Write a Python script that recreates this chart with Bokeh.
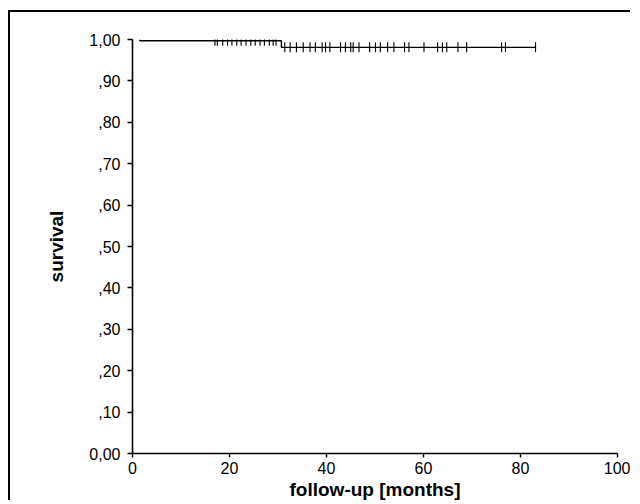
from bokeh.plotting import figure
from bokeh.models import Range1d, FixedTicker
from bokeh.embed import file_html
from bokeh.resources import INLINE
import numpy as np

# ---- data ----
km_start = 1.5                      # first time point (months)
event_times = [1.5, 30.7]           # events (months)
survival_after = [0.997, 0.981]     # survival after each event
end_time = 83.1                     # last follow-up
censor_upper = [17.0, 17.5, 18.6, 19.6, 20.5, 21.5, 22.4, 23.4, 24.4, 25.3,
                26.3, 27.2, 28.2, 29.0, 29.6]
censor_lower = [31.4, 32.5, 33.8, 35.2, 36.6, 37.7, 39.1, 39.8, 40.7, 42.9,
                43.9, 45.0, 45.5, 46.7, 48.9, 50.1, 51.1, 52.6, 53.9, 56.1,
                57.0, 60.1, 62.9, 63.9, 64.8, 67.1, 68.9, 76.1, 76.9, 83.1]
x_ticks = [0, 20, 40, 60, 80, 100]
x_tick_labels = ["0", "20", "40", "60", "80", "100"]
y_ticks = [0.0, 0.1, 0.2, 0.3, 0.4, 0.5, 0.6, 0.7, 0.8, 0.9, 1.0]
y_tick_labels = ["0,00", ",10", ",20", ",30", ",40", ",50", ",60", ",70",
                 ",80", ",90", "1,00"]
x_label = "follow-up [months]"
y_label = "survival"

FONT = "Liberation Sans"

# step vertices
xs = [km_start]
ys = [1.0]
cur = 1.0
for t, s in zip(event_times, survival_after):
    xs += [t, t]
    ys += [cur, s]
    cur = s
xs.append(end_time)
ys.append(cur)


def surv_at(t):
    s = 1.0
    for et, sv in zip(event_times, survival_after):
        if t >= et:
            s = sv
    return s


censor_t = censor_upper + censor_lower
censor_s = [surv_at(t) for t in censor_t]

W, H = 622, 490
ML, MR, MT, MB = 122, 15, 27, 47
p = figure(width=W, height=H, output_backend="svg", toolbar_location=None,
           x_range=Range1d(0, 100), y_range=Range1d(0, 1),
           min_border_left=ML, min_border_right=MR,
           min_border_top=MT, min_border_bottom=MB,
           background_fill_color="white", border_fill_color="white")
p.styles = {"margin-left": "8px", "margin-top": "10px",
            "border-left": "2px solid black", "border-top": "2px solid black"}
p.outline_line_color = None
p.xgrid.grid_line_color = None
p.ygrid.grid_line_color = None

p.line(xs, ys, line_color="black", line_width=1.4)
p.scatter(censor_t, censor_s, marker="dash", angle=np.pi / 2, size=10,
          line_color="black", line_width=1.1)

for ax in (p.xaxis, p.yaxis):
    ax.axis_line_color = "black"
    ax.axis_line_width = 1.6
    ax.major_tick_line_color = "black"
    ax.major_tick_line_width = 1.4
    ax.minor_tick_line_color = None
    ax.major_tick_in = 0
    ax.major_label_text_font = FONT
    ax.major_label_text_font_size = "16px"
    ax.major_label_text_color = "black"
    ax.axis_label_text_font = FONT
    ax.axis_label_text_font_style = "bold"
    ax.axis_label_text_font_size = "19px"
    ax.axis_label_text_color = "black"

p.xaxis.ticker = FixedTicker(ticks=x_ticks)
p.xaxis.major_label_overrides = {t: l for t, l in zip(x_ticks, x_tick_labels)}
p.xaxis.major_tick_out = 4
p.xaxis.major_label_standoff = 4
p.xaxis.axis_label = x_label
p.xaxis.axis_label_standoff = 2

p.yaxis.ticker = FixedTicker(ticks=y_ticks)
p.yaxis.major_label_overrides = {t: l for t, l in zip(y_ticks, y_tick_labels)}
p.yaxis.major_tick_out = 5
p.yaxis.major_label_standoff = 7
p.yaxis.axis_label = y_label
p.yaxis.axis_label_standoff = 19

open("out.html", "w").write(file_html(p, INLINE))
